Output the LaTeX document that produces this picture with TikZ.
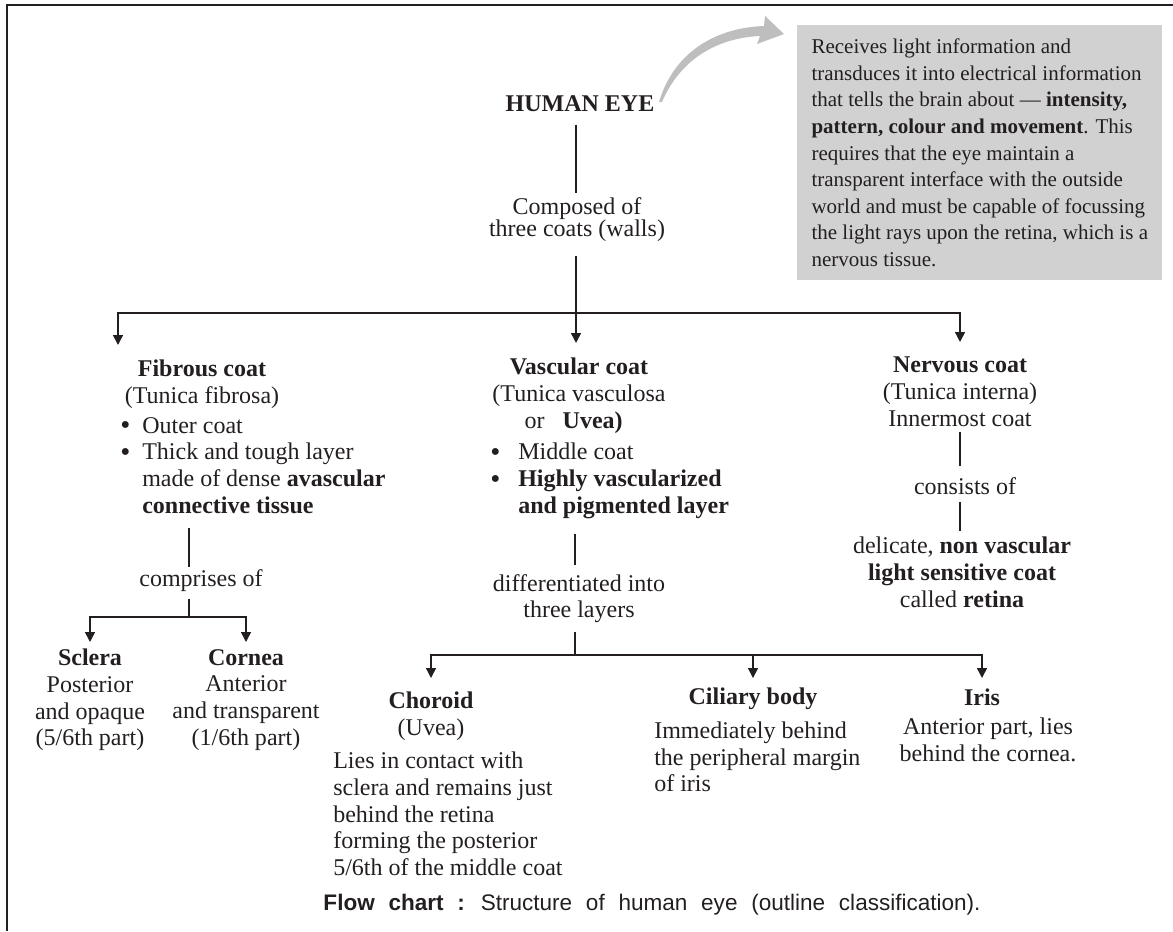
\documentclass[tikz,border=0pt]{standalone}
\usepackage{fontspec}
\setmainfont{Liberation Serif}
\newfontfamily\capfont[WordSpace=2.2]{Liberation Sans}
\usetikzlibrary{arrows.meta}

\definecolor{ink}{RGB}{35,31,32}
\definecolor{boxgray}{RGB}{209,209,209}
\definecolor{arrowgray}{RGB}{190,190,190}
\newcommand{\bodyfont}{\fontsize{18}{20}\selectfont}
\newcommand{\dotmark}{\smash{\raisebox{-0.06em}{\scalebox{1.2}{\textbullet}}}}
\newcommand{\blt}{\makebox[16.5pt][l]{\dotmark}}
\newcommand{\bltv}{\makebox[21pt][l]{\dotmark}}

\begin{document}
\begin{tikzpicture}[x=0.75pt,y=0.75pt,yscale=-1,xscale=1,
  txt/.style={inner sep=0pt, text=ink, font=\bodyfont, align=center, anchor=north},
  txtl/.style={txt, align=left, anchor=north west},
  link/.style 2 args={draw=ink, line width=0.8pt, shorten <=#1, shorten >=#2},
  arr/.style={draw=ink, line width=1.1pt, -{Triangle[width=7.5pt,length=7.5pt]}, shorten >=#1},
  arr/.default=8pt]
\useasboundingbox (0,0) rectangle (1173,931);

%Frame
\draw [ink, line width=1.5pt] (7,931) -- (7,5) -- (1173,5);

%Joins
\coordinate (topjoin) at (576,313);
\coordinate (fibstem) at (189,617);
\coordinate (vasjoin) at (575,655);

% Text Node
\node (eye) at (580,95) [txt] {\textbf{HUMAN EYE}};
% Text Node
\node (composed) at (577,197.5) [txt] {Composed of\\[-3.5pt]three coats (walls)};
% Text Node
\node (info) at (797,25) [anchor=north west, fill=boxgray, text=ink, inner sep=0pt,
  minimum width=273.75pt, minimum height=191.25pt, align=left,
  font=\fontsize{15.75}{19.9}\selectfont]
  {Receives light information and\\
   transduces it into electrical information\\
   that tells the brain about --- \textbf{intensity,}\\
   \textbf{pattern, colour and movement}. This\\
   requires that the eye maintain a\\
   transparent interface with the outside\\
   world and must be capable of focussing\\
   the light rays upon the retina, which is a\\
   nervous tissue.\hspace{4pt}\mbox{}};

% Text Node
\node (fibrous) at (202,360) [txt] {\textbf{Fibrous coat}\\(Tunica fibrosa)};
% Text Node
\node (fiblist) at (120,417) [txtl] {\blt Outer coat\\
  \blt Thick and tough layer\\
  \hspace*{16.5pt}made of dense \textbf{avascular}\\
  \hspace*{16.5pt}\textbf{connective tissue}};
% Text Node
\node (vascular) at (579,358) [txt] {\textbf{Vascular coat}\\(Tunica vasculosa\\or\hspace{0.75em}\textbf{Uvea)}\hspace{8pt}\mbox{}};
% Text Node
\node (vaslist) at (490,443) [txtl] {\bltv Middle coat\\
  \bltv\textbf{Highly vascularized}\\
  \hspace*{21pt}\textbf{and pigmented layer}};
% Text Node
\node (nervous) at (960,357) [txt] {\textbf{Nervous coat}\\(Tunica interna)\\Innermost coat};
% Text Node
\node (consists) at (965,477) [txt] {consists of};
% Text Node
\node (retina) at (962,537) [txt] {delicate, \textbf{non vascular}\\\textbf{light sensitive coat}\\called \textbf{retina}};

% Text Node
\node (comprises) at (201,569.5) [txt] {comprises of};
% Text Node
\node (sclera) at (90,649) [txt] {\textbf{Sclera}\\Posterior\\and opaque\\(5/6th part)};
% Text Node
\node (cornea) at (246,649) [txt] {\textbf{Cornea}\\Anterior\\and transparent\\(1/6th part)};

% Text Node
\node (layers) at (579,574) [txt] {differentiated into\\three layers};
% Text Node
\node (choroid) at (431,692) [txt] {\textbf{Choroid}\\(Uvea)};
% Text Node
\node (chordesc) at (333,752) [txtl] {Lies in contact with\\sclera and remains just\\behind the retina\\forming the posterior\\5/6th of the middle coat};
% Text Node
\node (ciliary) at (753,687.5) [txt] {\textbf{Ciliary body}};
% Text Node
\node (cildesc) at (654,721.5) [txtl] {Immediately behind\\the peripheral margin\\of iris};
% Text Node
\node (iris) at (982,689) [txt] {\textbf{Iris}};
% Text Node
\node (irisdesc) at (988,717.5) [txt] {Anterior part, lies\\behind the cornea.};

% Text Node
\node (caption) at (652,905) [inner sep=0pt, text=ink, font=\capfont\fontsize{16.9}{20}\selectfont]
  {\textbf{Flow chart :} Structure of human eye (outline classification).};

%Curved Arrow (eye to info)
\fill [arrowgray] (659,102) .. controls (673,55) and (712,28) .. (764,26) -- (765,16) -- (784,34)
  -- (757,44) -- (760,36) .. controls (716,38) and (680,60) .. (662,102) -- cycle;

%Straight Lines
\draw [link={9.75pt}{3.4pt}] (eye.south -| topjoin) -- (composed.north -| topjoin);
\draw [link={10.5pt}{0pt}] (composed.south -| topjoin) -- (topjoin);
\draw [link={10.5pt}{1.9pt}] (fiblist.south -| fibstem) -- (comprises.north -| fibstem);
\draw [link={4.9pt}{0pt}] (comprises.south -| fibstem) -- (fibstem);
\draw [link={11.6pt}{6.75pt}] (vaslist.south -| vasjoin) -- (layers.north -| vasjoin);
\draw [link={6.4pt}{0pt}] (layers.south -| vasjoin) -- (vasjoin);
\draw [link={3.75pt}{8.25pt}] (nervous.south) -- (nervous.south |- consists.north);
\draw [link={5.25pt}{4.5pt}] (consists.south -| nervous.south) -- (nervous.south |- retina.north);

%Arrows
\draw [arr=11.25pt] (topjoin) -| ([xshift=-63pt]fibrous.north);
\draw [arr=11.25pt] (topjoin) -- (topjoin |- vascular.north);
\draw [arr=11.25pt] (topjoin) -| (nervous.north);
\draw [arr=5.25pt] (fibstem) -| (sclera.north);
\draw [arr=5.25pt] (fibstem) -| (cornea.north);
\draw [arr=10.5pt] (vasjoin) -| (choroid.north);
\draw [arr=7.1pt] (vasjoin) -| (ciliary.north);
\draw [arr=8.25pt] (vasjoin) -| (iris.north);

\end{tikzpicture}
\end{document}
